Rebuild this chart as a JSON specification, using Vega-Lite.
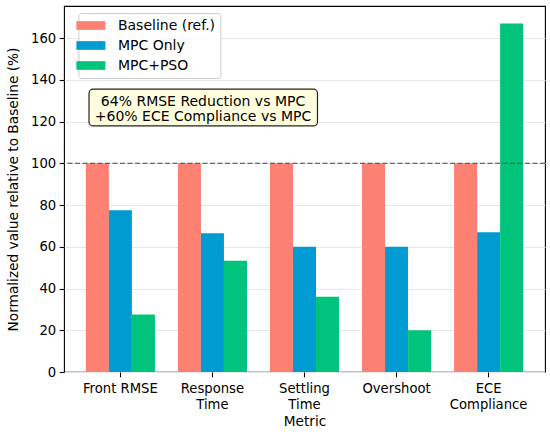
{
  "$schema": "https://vega.github.io/schema/vega-lite/v6.json",
  "width": 481,
  "height": 366,
  "autosize": "none",
  "padding": {"left": 64, "top": 6, "right": 5, "bottom": 63},
  "config": {
    "font": "DejaVu Sans",
    "view": {"stroke": "black", "strokeWidth": 1.1},
    "axis": {
      "labelFont": "DejaVu Sans", "titleFont": "DejaVu Sans",
      "labelFontSize": 13.2, "titleFontSize": 13.7, "titleFontWeight": "normal",
      "labelColor": "black", "titleColor": "black",
      "tickColor": "black", "tickSize": 4.8, "tickWidth": 1.1,
      "labelPadding": 3.5, "domain": false
    },
    "legend": {
      "labelFont": "DejaVu Sans", "labelFontSize": 14, "labelColor": "black"
    }
  },
  "layer": [
    {
      "data": {
        "values": [
          {"metric": "Front RMSE", "method": "Baseline (ref.)", "value": 100},
          {"metric": "Front RMSE", "method": "MPC Only", "value": 77.5},
          {"metric": "Front RMSE", "method": "MPC+PSO", "value": 27.5},
          {"metric": "Response Time", "method": "Baseline (ref.)", "value": 100},
          {"metric": "Response Time", "method": "MPC Only", "value": 66.5},
          {"metric": "Response Time", "method": "MPC+PSO", "value": 53.3},
          {"metric": "Settling Time", "method": "Baseline (ref.)", "value": 100},
          {"metric": "Settling Time", "method": "MPC Only", "value": 60},
          {"metric": "Settling Time", "method": "MPC+PSO", "value": 36},
          {"metric": "Overshoot", "method": "Baseline (ref.)", "value": 100},
          {"metric": "Overshoot", "method": "MPC Only", "value": 60},
          {"metric": "Overshoot", "method": "MPC+PSO", "value": 20},
          {"metric": "ECE Compliance", "method": "Baseline (ref.)", "value": 100},
          {"metric": "ECE Compliance", "method": "MPC Only", "value": 67},
          {"metric": "ECE Compliance", "method": "MPC+PSO", "value": 167}
        ]
      },
      "mark": "bar",
      "encoding": {
        "x": {
          "field": "metric", "type": "nominal",
          "sort": ["Front RMSE", "Response Time", "Settling Time", "Overshoot", "ECE Compliance"],
          "title": "Metric",
          "scale": {"paddingInner": 0.25, "paddingOuter": 0.2375},
          "axis": {
            "labelAngle": 0, "grid": false, "labelLineHeight": 16, "labelPadding": 5.5, "titlePadding": 4,
            "labelExpr": "indexof(['Response Time','Settling Time','ECE Compliance'], datum.label) >= 0 ? split(datum.label, ' ') : datum.label"
          }
        },
        "xOffset": {
          "field": "method",
          "sort": ["Baseline (ref.)", "MPC Only", "MPC+PSO"]
        },
        "y": {
          "field": "value", "type": "quantitative",
          "scale": {"domain": [0, 175.35], "nice": false},
          "title": "Normalized value relative to Baseline (%)",
          "axis": {
            "values": [0, 20, 40, 60, 80, 100, 120, 140, 160],
            "grid": true, "gridColor": "#e6e6e6", "gridWidth": 1.1, "titlePadding": 10
          }
        },
        "color": {
          "field": "method", "type": "nominal",
          "scale": {
            "domain": ["Baseline (ref.)", "MPC Only", "MPC+PSO"],
            "range": ["#fd8173", "#009bd0", "#00c47c"]
          },
          "legend": {
            "title": null, "orient": "none", "legendX": 14.4, "legendY": 7,
            "symbolType": "M-2,-0.6H2V0.6H-2Z", "symbolSize": 210,
            "symbolStrokeWidth": 0, "symbolOpacity": 1,
            "labelOffset": 19.5, "padding": 5, "rowPadding": 5,
            "fillColor": "rgba(255,255,255,0.85)", "strokeColor": "#cccccc", "cornerRadius": 3
          }
        }
      }
    },
    {
      "data": {"values": [{}]},
      "mark": {"type": "rule", "color": "#444444", "strokeWidth": 1.2, "strokeDash": [5, 2.5]},
      "encoding": {"y": {"datum": 100}}
    },
    {
      "data": {"values": [{}]},
      "mark": {"type": "rect", "fill": "#ffffe0", "stroke": "#222222", "strokeWidth": 1.2, "cornerRadius": 4},
      "encoding": {
        "x": {"datum": 0.052, "type": "quantitative", "scale": {"domain": [0, 1]}, "axis": null},
        "x2": {"datum": 0.527},
        "y": {"datum": 117.9},
        "y2": {"datum": 135.5}
      }
    },
    {
      "data": {"values": [{}]},
      "mark": {
        "type": "text", "font": "DejaVu Sans", "fontSize": 14, "color": "black",
        "align": "center", "baseline": "middle", "lineHeight": 15.5,
        "text": ["64% RMSE Reduction vs MPC", "+60% ECE Compliance vs MPC"]
      },
      "encoding": {
        "x": {"datum": 0.289, "type": "quantitative", "scale": {"domain": [0, 1]}, "axis": null},
        "y": {"datum": 129.4}
      }
    }
  ],
  "resolve": {"scale": {"x": "independent"}, "axis": {"x": "independent"}}
}
